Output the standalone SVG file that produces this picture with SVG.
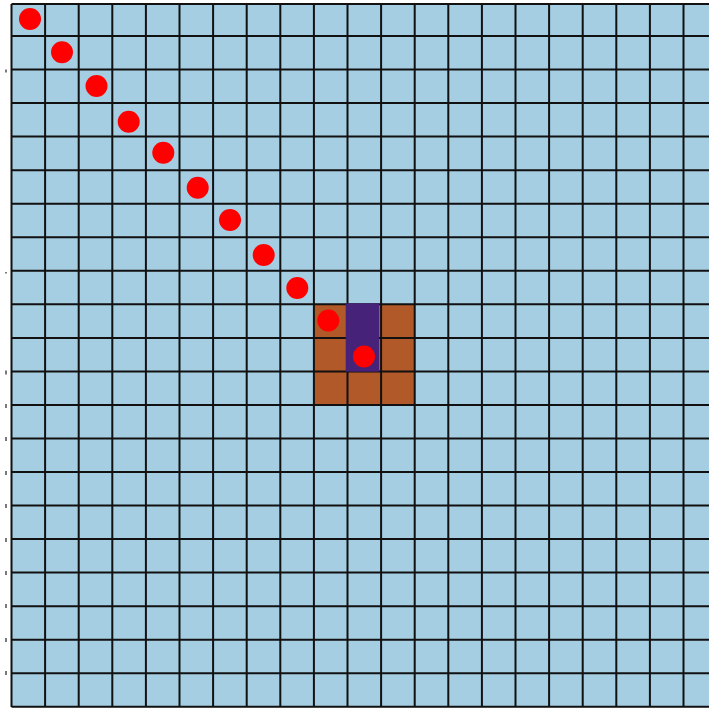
<svg xmlns="http://www.w3.org/2000/svg" width="709" height="709" viewBox="0 0 709 709">
<style>
.g{stroke:#111;stroke-width:2;fill:none}
.dot{fill:#ff0000}
.tk{stroke:#222;stroke-width:1.2}
</style>
<rect x="0" y="0" width="709" height="709" fill="#ffffff"/>
<rect x="11.5" y="4" width="700" height="703" fill="#a6cee3"/>
<rect id="brown" x="313.9" y="304.3" width="100.8" height="100.6" fill="#b15928"/>
<g id="grid" class="g">
<path d="M11.5 4V707M45.1 4V707M78.7 4V707M112.3 4V707M145.9 4V707M179.5 4V707M213.1 4V707M246.7 4V707M280.3 4V707M313.9 4V707M347.5 4V707M381.1 4V707M414.7 4V707M448.3 4V707M481.9 4V707M515.5 4V707M549.1 4V707M582.7 4V707M616.3 4V707M649.9 4V707M683.5 4V707"/>
<path d="M11.5 4H709M11.5 36H709M11.5 69.5H709M11.5 103.1H709M11.5 136.6H709M11.5 170.2H709M11.5 203.7H709M11.5 237.2H709M11.5 270.8H709M11.5 304.3H709M11.5 337.9H709M11.5 371.4H709M11.5 404.9H709M11.5 438.5H709M11.5 472H709M11.5 505.6H709M11.5 539.1H709M11.5 572.6H709M11.5 606.2H709M11.5 639.7H709M11.5 673.3H709M11.5 706.8H709"/>
</g>
<rect id="purple" x="345.7" y="303.3" width="33.3" height="68.4" fill="#462378"/>
<g id="ticks" class="tk">
<path d="M6 69.5V72.5M6 272V273.5M6 370.5V374.5M6 404V408M6 437V441M6 471V475M6 504V508M6 538V542M6 571V575M6 604V608M6 638V642M6 671V675"/>
</g>
<g id="points">
<circle id="p1" class="dot" cx="30" cy="19" r="11"/>
<circle id="p2" class="dot" cx="62" cy="52.3" r="11"/>
<circle id="p3" class="dot" cx="96.5" cy="86" r="11"/>
<circle id="p4" class="dot" cx="128.7" cy="121.7" r="11"/>
<circle id="p5" class="dot" cx="163.3" cy="152.7" r="11"/>
<circle id="p6" class="dot" cx="197.7" cy="187.7" r="11"/>
<circle id="p7" class="dot" cx="230" cy="220" r="11"/>
<circle id="p8" class="dot" cx="263.7" cy="255" r="11"/>
<circle id="p9" class="dot" cx="297.3" cy="288" r="11"/>
<circle id="p10" class="dot" cx="328.3" cy="320.5" r="11"/>
<circle id="p11" class="dot" cx="364" cy="356.5" r="11"/>
</g>
</svg>
